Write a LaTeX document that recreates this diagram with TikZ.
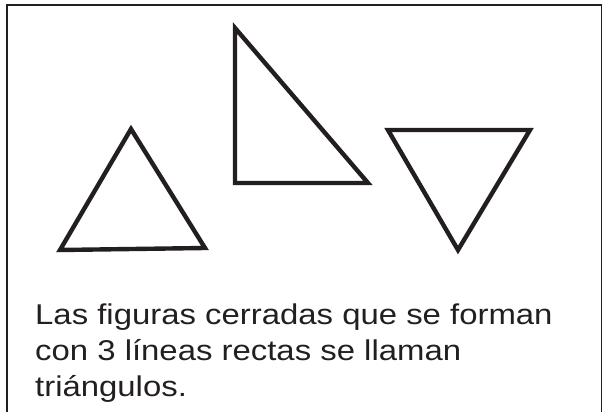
\documentclass[tikz,border=0pt]{standalone}
\usepackage{fontspec}
\setmainfont{Liberation Sans}
\newfontfamily\capfont[FakeStretch=1.15]{Liberation Sans}
\definecolor{ink}{HTML}{231F20}
\usetikzlibrary{positioning}

\begin{document}
\begin{tikzpicture}[
  x=1pt, y=-1pt,
  frame/.style={draw=ink, line width=1.8pt},
  tri/.style={draw=ink, line width=4.4pt, line join=miter},
  caption/.style={anchor=base west, inner sep=0pt, align=left, text=ink,
                  font=\capfont\fontsize{28.6}{36}\selectfont},
]
  \useasboundingbox (0,0) rectangle (603,412);
  % open frame, its bottom runs off the page
  \draw[frame] (7,412) -- (7,5) -- (601.5,5) -- (601.5,412);

  % three triangles
  \draw[tri] (131,129) -- (205,248) -- (60,250) -- cycle;
  \draw[tri] (235,28) -- (368,183) -- (235,183) -- cycle;
  \draw[tri] (388,130) -- (530,130) -- (458,250) -- cycle;

  % base of the last line
  \node[caption] (txt) at (35,396)
    {Las figuras cerradas que se forman\\
     con 3 líneas rectas se llaman\\
     triángulos.};
\end{tikzpicture}
\end{document}
